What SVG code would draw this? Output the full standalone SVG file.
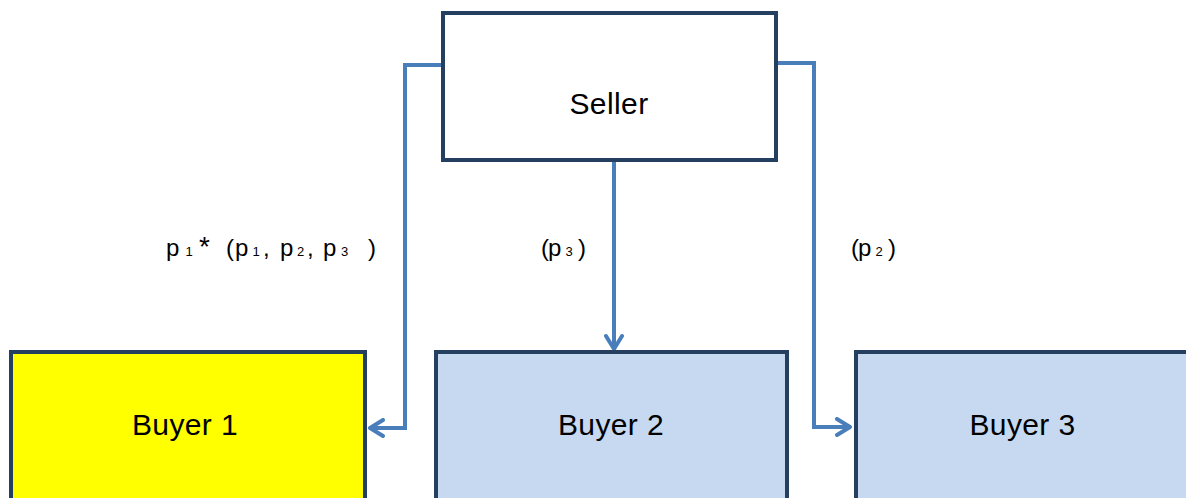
<svg xmlns="http://www.w3.org/2000/svg" width="1186" height="498" viewBox="0 0 1186 498">
<defs>
<style>
.box{stroke:#243F60;stroke-width:4}
.t{font-family:"Liberation Sans",Arial,sans-serif;font-size:30px;fill:#000;letter-spacing:0.4px}
.l{font-family:"Liberation Sans",Arial,sans-serif;font-size:24px;fill:#000}
.s{font-size:13px}
.c{fill:none;stroke:#4A7EBB;stroke-width:4}
</style>
<marker id="ah" viewBox="0 0 20 20" refX="17" refY="10" markerWidth="20" markerHeight="20" markerUnits="userSpaceOnUse" orient="auto">
<polyline points="4,2 17,10 4,18" fill="none" stroke="#4A7EBB" stroke-width="4" stroke-linecap="round" stroke-linejoin="round"/>
</marker>
</defs>
<rect width="1186" height="498" fill="#fff"/>
<g id="connectors">
<path class="c" d="M443,65 H405 V428 H370" marker-end="url(#ah)"/>
<path class="c" d="M614,160 V349" marker-end="url(#ah)"/>
<path class="c" d="M776,63 H814 V427 H850" marker-end="url(#ah)"/>
</g>
<g id="seller">
<rect class="box" x="443" y="13" width="333" height="147" fill="#fff"/>
<text class="t" x="609" y="114" text-anchor="middle">Seller</text>
</g>
<g id="buyer1">
<rect class="box" x="11" y="352" width="354" height="160" fill="#FFFF00"/>
<text class="t" x="185" y="435" text-anchor="middle">Buyer 1</text>
</g>
<g id="buyer2">
<rect class="box" x="436" y="352" width="351" height="160" fill="#C6D9F1"/>
<text class="t" x="611" y="435" text-anchor="middle">Buyer 2</text>
</g>
<g id="buyer3">
<rect class="box" x="856" y="352" width="340" height="160" fill="#C6D9F1"/>
<text class="t" x="1022.5" y="435" text-anchor="middle">Buyer 3</text>
</g>
<g id="labels">
<text class="l" y="256"><tspan x="166">p</tspan><tspan class="s" x="185.5">1</tspan><tspan x="199" font-size="28">*</tspan> <tspan x="226">(</tspan><tspan x="235">p</tspan><tspan class="s" x="252.5">1</tspan><tspan x="263">,</tspan> <tspan x="280">p</tspan><tspan class="s" x="297">2</tspan><tspan x="307">,</tspan> <tspan x="323">p</tspan><tspan class="s" x="341">3</tspan><tspan x="368">)</tspan></text>
<text class="l" y="256"><tspan x="541">(</tspan><tspan x="548">p</tspan><tspan class="s" x="565.5">3</tspan><tspan x="578">)</tspan></text>
<text class="l" y="256"><tspan x="851">(</tspan><tspan x="858">p</tspan><tspan class="s" x="875.5">2</tspan><tspan x="888">)</tspan></text>
</g>
</svg>
